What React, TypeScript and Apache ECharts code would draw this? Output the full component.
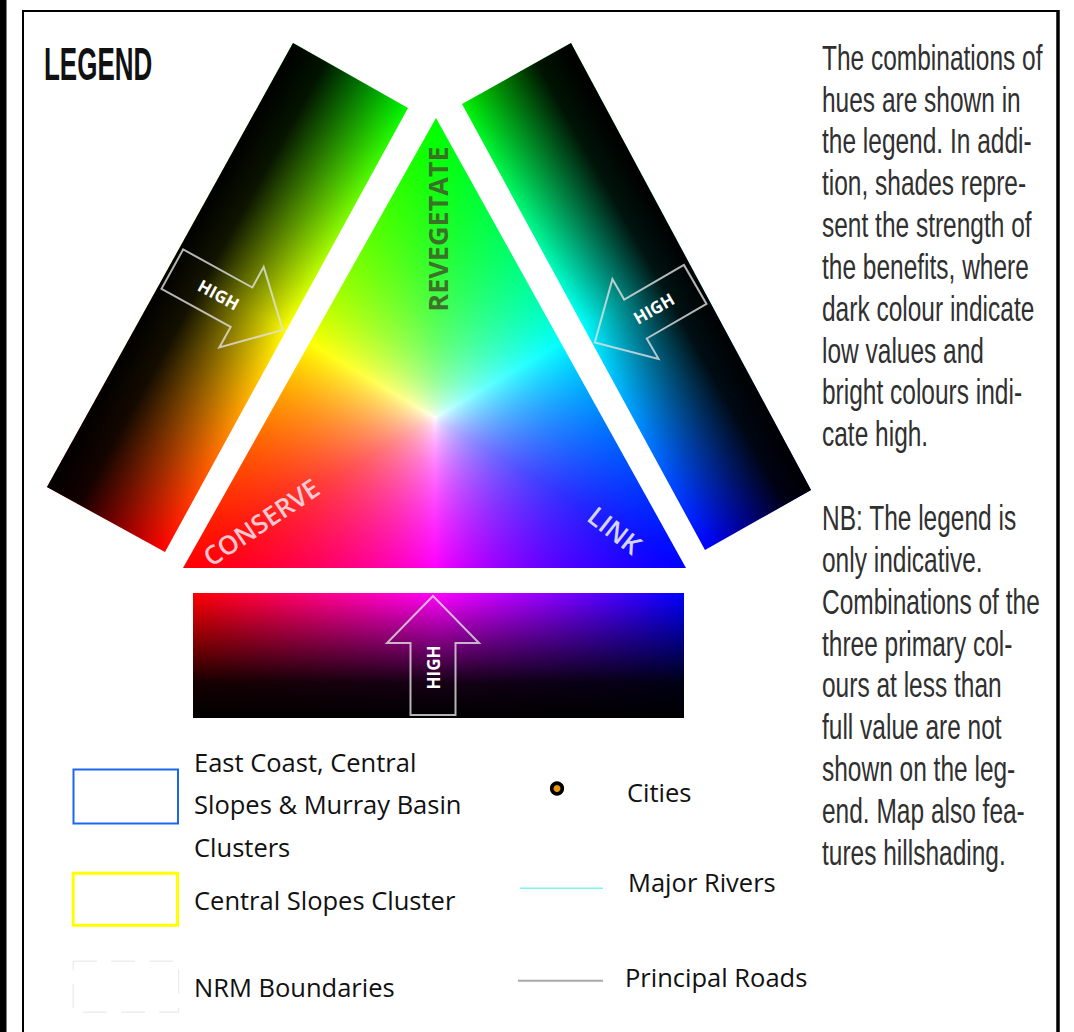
import React, { useEffect, useRef } from "react";
import * as echarts from "echarts";

// ---------- content ----------
const TITLE = "LEGEND";
const NOTE_BLOCK_1 = [
  "The combinations of",
  "hues are shown in",
  "the legend. In addi-",
  "tion, shades repre-",
  "sent the strength of",
  "the benefits, where",
  "dark colour indicate",
  "low values and",
  "bright colours indi-",
  "cate high.",
];
const NOTE_BLOCK_2 = [
  "NB: The legend is",
  "only indicative.",
  "Combinations of the",
  "three primary col-",
  "ours at less than",
  "full value are not",
  "shown on the leg-",
  "end. Map also fea-",
  "tures hillshading.",
];
const CORNER_LABELS = ["CONSERVE", "REVEGETATE", "LINK"];
const CORNER_COLORS = ["#ff0000", "#00ff00", "#0000ff"];
const LEFT_BAND_HUES = ["#ff0000", "#ffff00", "#00ff00"];
const RIGHT_BAND_HUES = ["#00ff00", "#00ffff", "#0000ff"];
const BOTTOM_BAND_HUES = ["#ff0000", "#ff00ff", "#0000ff"];
const ARROW_LABEL = "HIGH";
const BOX_LABELS = [
  ["East Coast, Central", "Slopes & Murray Basin", "Clusters"],
  ["Central Slopes Cluster"],
  ["NRM Boundaries"],
];
const BOX_COLORS = ["#1a66f0", "#ffff00", "#e6e6e6"];
const SYMBOL_LABELS = ["Cities", "Major Rivers", "Principal Roads"];
const SYMBOL_COLORS = ["#e8940c", "#7ff5ea", "#a8a8a8"];

// ---------- geometry ----------
const TRI = { r: [183, 568], g: [436, 118], b: [686, 568] };
const LEFT_BAND = [[47, 487], [293, 43], [408, 108], [165, 552]];
const RIGHT_BAND = [[462, 104], [571, 43], [811, 490], [705, 550]];
const BOTTOM_BAND = { x: 193, y: 593, w: 491, h: 125 };

function hexToRgb(h: string) {
  const n = parseInt(h.slice(1), 16);
  return [(n >> 16) & 255, (n >> 8) & 255, n & 255];
}

function makeTriangleImage() {
  const x0 = Math.min(TRI.r[0], TRI.g[0], TRI.b[0]);
  const y0 = Math.min(TRI.r[1], TRI.g[1], TRI.b[1]);
  const x1 = Math.max(TRI.r[0], TRI.g[0], TRI.b[0]);
  const y1 = Math.max(TRI.r[1], TRI.g[1], TRI.b[1]);
  const w = x1 - x0;
  const h = y1 - y0;
  const cv = document.createElement("canvas");
  cv.width = w;
  cv.height = h;
  const ctx = cv.getContext("2d")!;
  const img = ctx.createImageData(w, h);
  const P = [TRI.r, TRI.g, TRI.b].map((p) => [p[0] - x0, p[1] - y0]);
  const cols = CORNER_COLORS.map(hexToRgb);
  const [[ax, ay], [bx, by], [cx, cy]] = P;
  const det = (by - cy) * (ax - cx) + (cx - bx) * (ay - cy);
  for (let y = 0; y < h; y++) {
    for (let x = 0; x < w; x++) {
      const px = x + 0.5;
      const py = y + 0.5;
      let a = ((by - cy) * (px - cx) + (cx - bx) * (py - cy)) / det;
      let b = ((cy - ay) * (px - cx) + (ax - cx) * (py - cy)) / det;
      let c = 1 - a - b;
      a = Math.max(0, a);
      b = Math.max(0, b);
      c = Math.max(0, c);
      const mx = Math.max(a, b, c, 1e-6);
      const mn = Math.min(a, b, c);
      const nmin = mn / mx;
      const sat = Math.pow(1 - nmin, 0.75);
      const wts = [a, b, c].map((v) => (1 - nmin > 1e-6 ? (v / mx - nmin) / (1 - nmin) : 0));
      const rgb = [0, 0, 0];
      for (let k = 0; k < 3; k++) {
        for (let ch = 0; ch < 3; ch++) rgb[ch] += (wts[k] * cols[k][ch]) / 255;
      }
      const o = (y * w + x) * 4;
      for (let ch = 0; ch < 3; ch++) {
        const hv = Math.min(1, rgb[ch]);
        img.data[o + ch] = Math.round(255 * (1 - sat * (1 - hv)));
      }
      img.data[o + 3] = 255;
    }
  }
  ctx.putImageData(img, 0, 0);
  ctx.globalCompositeOperation = "destination-in";
  ctx.beginPath();
  ctx.moveTo(P[0][0], P[0][1]);
  ctx.lineTo(P[1][0], P[1][1]);
  ctx.lineTo(P[2][0], P[2][1]);
  ctx.closePath();
  ctx.fillStyle = "#000";
  ctx.fill();
  return { url: cv.toDataURL(), x: x0, y: y0, w, h };
}

function grad(x: number, y: number, x2: number, y2: number, stops: [number, string][]) {
  return {
    type: "linear",
    x,
    y,
    x2,
    y2,
    global: true,
    colorStops: stops.map(([offset, color]) => ({ offset, color })),
  };
}

function hueStops(hues: string[]): [number, string][] {
  return hues.map((c, i) => [i / (hues.length - 1), c]);
}

const SHADE: [number, string][] = [
  [0, "rgba(0,0,0,1)"],
  [0.28, "rgba(0,0,0,0.92)"],
  [1, "rgba(0,0,0,0)"],
];

function arrow(cx: number, cy: number, rot: number, textRot: number, len: number, textShift: number) {
  const sh = 22.5;
  const hh = 46;
  const hl = 47;
  const L = len / 2;
  return {
    type: "group",
    x: cx,
    y: cy,
    rotation: rot,
    children: [
      {
        type: "polygon",
        shape: {
          points: [
            [-L, -sh],
            [L - hl, -sh],
            [L - hl, -hh],
            [L, 0],
            [L - hl, hh],
            [L - hl, sh],
            [-L, sh],
          ],
        },
        style: { fill: "none", stroke: "rgba(225,225,225,0.8)", lineWidth: 2 },
      },
      {
        type: "text",
        x: textShift,
        y: 0,
        rotation: textRot,
        style: {
          text: ARROW_LABEL,
          fill: "#ffffff",
          font: "bold 17px 'Open Sans', sans-serif",
          textAlign: "center",
          textVerticalAlign: "middle",
        },
      },
    ],
  };
}

export default function App() {
  const ref = useRef<HTMLDivElement>(null);
  useEffect(() => {
    if (!ref.current) return;
    const chart = echarts.init(ref.current, undefined, { renderer: "svg" });
    const tri = makeTriangleImage();

    const lb = LEFT_BAND;
    const rb = RIGHT_BAND;
    const mid = (p: number[], q: number[]) => [(p[0] + q[0]) / 2, (p[1] + q[1]) / 2];
    const lBot = mid(lb[0], lb[3]);
    const lTop = mid(lb[1], lb[2]);
    const lOut = mid(lb[0], lb[1]);
    const lIn = mid(lb[2], lb[3]);
    const rTop = mid(rb[0], rb[1]);
    const rBot = mid(rb[2], rb[3]);
    const rOut = mid(rb[1], rb[2]);
    const rIn = mid(rb[0], rb[3]);

    const elements: any[] = [];
    // frame
    elements.push({ type: "rect", shape: { x: 0, y: 0, width: 6.5, height: 1032 }, style: { fill: "#000" } });
    elements.push({ type: "line", shape: { x1: 23, y1: 11, x2: 1058, y2: 11 }, style: { stroke: "#000", lineWidth: 2 } });
    elements.push({ type: "line", shape: { x1: 23, y1: 10, x2: 23, y2: 1032 }, style: { stroke: "#000", lineWidth: 2 } });
    elements.push({ type: "line", shape: { x1: 1058, y1: 10, x2: 1058, y2: 1032 }, style: { stroke: "#000", lineWidth: 3.5 } });

    // title
    elements.push({
      type: "text",
      x: 44,
      y: 64,
      scaleX: 0.565,
      style: {
        text: TITLE,
        fill: "#111",
        font: "bold 46px 'Liberation Sans', sans-serif",
        textAlign: "left",
        textVerticalAlign: "middle",
      },
    });

    // bands
    elements.push({
      type: "polygon",
      shape: { points: lb },
      style: { fill: grad(lBot[0], lBot[1], lTop[0], lTop[1], hueStops(LEFT_BAND_HUES)) },
    });
    elements.push({
      type: "polygon",
      shape: { points: lb },
      style: { fill: grad(lOut[0], lOut[1], lIn[0], lIn[1], SHADE) },
    });
    elements.push({
      type: "polygon",
      shape: { points: rb },
      style: { fill: grad(rTop[0], rTop[1], rBot[0], rBot[1], hueStops(RIGHT_BAND_HUES)) },
    });
    elements.push({
      type: "polygon",
      shape: { points: rb },
      style: { fill: grad(rOut[0], rOut[1], rIn[0], rIn[1], SHADE) },
    });
    const bb = BOTTOM_BAND;
    elements.push({
      type: "rect",
      shape: { x: bb.x, y: bb.y, width: bb.w, height: bb.h },
      style: { fill: grad(bb.x, 0, bb.x + bb.w, 0, hueStops(BOTTOM_BAND_HUES)) },
    });
    elements.push({
      type: "rect",
      shape: { x: bb.x, y: bb.y, width: bb.w, height: bb.h },
      style: { fill: grad(0, bb.y + bb.h, 0, bb.y, SHADE) },
    });

    // triangle
    elements.push({
      type: "image",
      style: { image: tri.url, x: tri.x, y: tri.y, width: tri.w, height: tri.h },
    });

    // corner labels
    elements.push({
      type: "text",
      x: 261,
      y: 522,
      rotation: (34 * Math.PI) / 180,
      style: {
        text: CORNER_LABELS[0],
        fill: "rgba(255,225,235,0.88)",
        font: "600 26px 'Open Sans', sans-serif",
        textAlign: "center",
        textVerticalAlign: "middle",
      },
    });
    elements.push({
      type: "text",
      x: 437,
      y: 229,
      rotation: Math.PI / 2,
      style: {
        text: CORNER_LABELS[1],
        fill: "rgba(62,100,40,0.92)",
        font: "bold 27px 'Open Sans', sans-serif",
        textAlign: "center",
        textVerticalAlign: "middle",
      },
    });
    elements.push({
      type: "text",
      x: 615,
      y: 530,
      rotation: (-38 * Math.PI) / 180,
      style: {
        text: CORNER_LABELS[2],
        fill: "rgba(232,232,255,0.92)",
        font: "600 26px 'Open Sans', sans-serif",
        textAlign: "center",
        textVerticalAlign: "middle",
      },
    });

    // arrows
    const aL = Math.atan2(61, 111);
    elements.push(arrow(227.5, 299.5, -aL, 0, 126, -10));
    const aR = Math.atan2(57, -98.5);
    elements.push(arrow(645, 313.5, -aR, Math.PI, 116, -10));
    elements.push(arrow(433, 655.5, Math.PI / 2, 0, 119, -12));

    // notes
    const noteLines = [...NOTE_BLOCK_1, "", ...NOTE_BLOCK_2];
    noteLines.forEach((t, i) => {
      if (!t) return;
      elements.push({
        type: "text",
        x: 822,
        y: 57.5 + i * 41.85,
        scaleX: 0.7,
        style: {
          text: t,
          fill: "#303030",
          font: "35px 'Liberation Sans', sans-serif",
          textAlign: "left",
          textVerticalAlign: "middle",
        },
      });
    });

    // boxes
    const boxRects = [
      { x: 73.5, y: 769.5, w: 104.5, h: 54, lw: 2, dash: null as any },
      { x: 73.2, y: 873.2, w: 104.3, h: 52, lw: 3, dash: null },
      { x: 73.2, y: 961.2, w: 105.5, h: 51, lw: 1, dash: [24, 14] },
    ];
    boxRects.forEach((r, i) => {
      elements.push({
        type: "rect",
        shape: { x: r.x, y: r.y, width: r.w, height: r.h },
        style: { fill: "none", stroke: BOX_COLORS[i], lineWidth: r.lw, lineDash: r.dash || undefined },
      });
    });
    const boxTextY = [[762, 804, 847], [900], [987]];
    BOX_LABELS.forEach((lines, i) => {
      lines.forEach((t, j) => {
        elements.push({
          type: "text",
          x: 194,
          y: boxTextY[i][j],
          style: {
            text: t,
            fill: "#111",
            font: "25.5px 'Open Sans', sans-serif",
            textAlign: "left",
            textVerticalAlign: "middle",
          },
        });
      });
    });

    // symbols
    elements.push({
      type: "circle",
      shape: { cx: 557, cy: 788.5, r: 5.3 },
      style: { fill: SYMBOL_COLORS[0], stroke: "#000", lineWidth: 3.6 },
    });
    elements.push({
      type: "line",
      shape: { x1: 520, y1: 888.3, x2: 603, y2: 888.3 },
      style: { stroke: SYMBOL_COLORS[1], lineWidth: 1.5 },
    });
    elements.push({
      type: "line",
      shape: { x1: 518, y1: 980.7, x2: 603, y2: 980.7 },
      style: { stroke: SYMBOL_COLORS[2], lineWidth: 2 },
    });
    const symX = [627, 628, 625];
    const symY = [792, 882, 977];
    SYMBOL_LABELS.forEach((t, i) => {
      elements.push({
        type: "text",
        x: symX[i],
        y: symY[i],
        style: {
          text: t,
          fill: "#111",
          font: "25.5px 'Open Sans', sans-serif",
          textAlign: "left",
          textVerticalAlign: "middle",
        },
      });
    });

    chart.setOption({
      animation: false,
      backgroundColor: "#ffffff",
      graphic: { elements },
    });
    return () => chart.dispose();
  }, []);
  return (
    <div
      ref={ref}
      style={{ position: "fixed", left: 0, top: 0, width: 1074, height: 1032, background: "#fff" }}
    />
  );
}
